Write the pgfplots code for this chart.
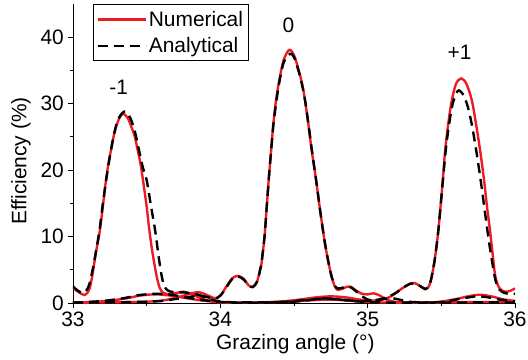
\documentclass[border=0pt]{standalone}
\usepackage{fontspec}
\setmainfont{Liberation Sans}
\usepackage{pgfplots}
\pgfplotsset{compat=1.18}
\definecolor{numred}{RGB}{237,28,36}
\newcommand\chartfont{\fontsize{21}{25}\selectfont}

\begin{document}
\begin{tikzpicture}
\begin{axis}[
  scale only axis, width=442bp, height=299bp,
  xmin=33, xmax=36, ymin=0, ymax=45,
  axis x line*=bottom, axis y line*=left,
  axis line style={line width=1pt},
  xtick={33,34,35,36}, ytick={0,10,20,30,40},
  minor x tick num=1, minor y tick num=1,
  tick align=outside, major tick length=5bp, minor tick length=3bp,
  tick style={black, line width=0.9pt},
  /pgf/number format/assume math mode=true,
  ticklabel style={font=\chartfont},
  xticklabel style={inner sep=0pt, yshift=-4bp},
  yticklabel style={inner sep=0pt, xshift=-4bp},
  xlabel={Grazing angle (°)}, ylabel={Efficiency (\%)},
  every axis x label/.style={at={(axis description cs:0.503,-0.154)},
    anchor=base, font=\chartfont},
  every axis y label/.style={at={(axis description cs:-0.118,0.475)},
    rotate=90, anchor=center, font=\chartfont},
  legend style={at={(rel axis cs:0.045,1)}, anchor=north west,
    font=\chartfont, draw=black, line width=0.8pt,
    inner xsep=3bp, inner ysep=4.5bp, row sep=6bp},
  legend cell align=left,
  legend image code/.code={\draw[#1] (0bp,0bp) -- (48bp,0bp);},
  legend image post style={line width=2.6pt},
  every axis plot/.append style={smooth, tension=0.5},
]
% numerical: orders -1, 0, +1
\addplot[numred, line width=2.4pt] coordinates {
(33.00,2.3) (33.04,1.6) (33.08,1.2) (33.11,2.0) (33.13,4.0) (33.155,7.5) (33.183,11) (33.205,15) (33.224,18.5) (33.245,21.6) (33.263,23.5) (33.28,25.5) (33.31,27.6) (33.337,28.5) (33.37,27.9) (33.40,26.3) (33.42,25.0) (33.439,23) (33.458,21) (33.475,18.5) (33.50,14.5) (33.518,11) (33.54,7.5) (33.568,4) (33.59,2.2) (33.61,1.6) (33.64,1.35) (33.67,1.4) (33.71,1.55) (33.75,1.7) (33.79,1.45) (33.83,1.1) (33.87,0.7) (33.92,0.35) (33.97,0.15) (34.05,0.05) (34.3,0.1) (34.5,0.25) (34.65,0.45) (34.75,0.5) (34.85,0.4) (35.0,0.15) (35.2,0.05) (35.45,0.1) (35.6,0.6) (35.68,1.0) (35.76,1.25) (35.84,1.0) (35.92,0.55) (36.0,0.3)
};
\addlegendentry{Numerical}
\addplot[numred, line width=2.4pt, forget plot] coordinates {
(33.0,0.05) (33.3,0.1) (33.5,0.2) (33.6,0.35) (33.68,0.7) (33.75,1.1) (33.81,1.5) (33.86,1.6) (33.91,1.2) (33.95,0.8) (33.98,0.75) (34.01,1.4) (34.04,2.45) (34.08,3.7) (34.12,4.1) (34.16,3.6) (34.19,2.7) (34.22,2.4) (34.25,3.3) (34.27,5.0) (34.28,6.0) (34.30,10) (34.315,14.5) (34.33,19) (34.345,23) (34.36,27) (34.378,30.5) (34.40,33.5) (34.43,36.6) (34.468,38.1) (34.50,37.3) (34.53,35.2) (34.555,33) (34.575,30.5) (34.60,26.5) (34.62,23) (34.65,18.5) (34.68,13.5) (34.71,9.0) (34.735,6.0) (34.755,4.0) (34.775,2.6) (34.795,2.0) (34.83,2.15) (34.86,2.45) (34.89,2.4) (34.92,1.9) (34.96,1.4) (35.0,1.3) (35.04,1.45) (35.08,1.15) (35.13,0.5) (35.2,0.15) (35.4,0.05) (35.6,0.1) (35.8,0.15) (36.0,0.1)
};
\addplot[numred, line width=2.4pt, forget plot] coordinates {
(33.0,0.05) (33.2,0.25) (33.35,0.65) (33.45,1.1) (33.55,1.3) (33.65,1.15) (33.75,0.8) (33.85,0.45) (33.95,0.2) (34.05,0.05) (34.2,0.05) (34.4,0.2) (34.55,0.55) (34.65,0.85) (34.75,1.0) (34.85,0.85) (34.95,0.5) (35.03,0.35) (35.09,0.45) (35.14,0.8) (35.19,1.5) (35.24,2.3) (35.29,2.95) (35.32,3.0) (35.36,2.5) (35.39,2.1) (35.41,2.3) (35.43,3.5) (35.455,6.5) (35.48,11) (35.51,18.5) (35.526,23) (35.55,27.5) (35.571,30.5) (35.60,33) (35.635,33.8) (35.67,33) (35.707,30.5) (35.735,27) (35.763,23) (35.79,18.5) (35.81,14.5) (35.83,11) (35.85,7) (35.865,4.2) (35.885,2.6) (35.91,1.9) (35.94,1.7) (35.97,1.85) (36.0,2.2)
};
% analytical: orders -1, 0, +1
\addplot[black, line width=2.4pt, dash pattern=on 10bp off 6bp] coordinates {
(33.00,2.5) (33.03,1.9) (33.07,1.5) (33.10,2.2) (33.12,3.6) (33.15,7) (33.18,11) (33.20,14.5) (33.225,18.5) (33.25,22) (33.27,24.5) (33.30,27.3) (33.335,28.6) (33.36,28.8) (33.39,27.8) (33.42,25.8) (33.45,22.8) (33.475,20.3) (33.50,18.5) (33.53,14.5) (33.557,11) (33.58,7.2) (33.60,4.3) (33.62,2.5) (33.65,1.8) (33.70,1.6) (33.75,1.6) (33.80,1.45) (33.85,1.25) (33.90,0.8) (33.95,0.45) (34.0,0.25) (34.1,0.1) (34.3,0.1) (34.5,0.2) (34.62,0.5) (34.70,0.7) (34.78,0.6) (34.9,0.3) (35.05,0.1) (35.3,0.05) (35.5,0.15) (35.62,0.6) (35.70,0.9) (35.75,1.0) (35.82,0.85) (35.9,0.5) (36.0,0.25)
};
\addlegendentry{Analytical}
\addplot[black, line width=2.4pt, dash pattern=on 10bp off 6bp, forget plot] coordinates {
(33.0,0.05) (33.3,0.1) (33.5,0.2) (33.6,0.3) (33.68,0.55) (33.74,0.75) (33.8,0.95) (33.86,1.1) (33.91,0.9) (33.96,0.65) (34.0,1.1) (34.04,2.3) (34.08,3.6) (34.12,4.0) (34.16,3.5) (34.19,2.7) (34.22,2.4) (34.25,3.2) (34.27,5.0) (34.28,6.2) (34.30,10) (34.315,14.5) (34.33,19) (34.345,23) (34.36,26.8) (34.38,30.3) (34.40,33.2) (34.43,36.2) (34.473,37.5) (34.50,37.0) (34.53,35.0) (34.555,32.8) (34.575,30.5) (34.60,26.6) (34.62,23.2) (34.65,18.5) (34.68,13.5) (34.71,9.0) (34.735,6.0) (34.755,4.0) (34.775,2.7) (34.795,2.2) (34.83,2.3) (34.86,2.5) (34.89,2.3) (34.93,1.6) (34.97,0.9) (35.01,0.45) (35.06,0.4) (35.12,0.65) (35.17,0.7) (35.23,0.45) (35.3,0.15) (35.5,0.05) (35.8,0.1) (36.0,0.05)
};
\addplot[black, line width=2.4pt, dash pattern=on 10bp off 6bp, forget plot] coordinates {
(33.0,0.05) (33.2,0.3) (33.35,0.75) (33.45,1.2) (33.58,1.4) (33.68,1.2) (33.78,0.8) (33.88,0.45) (33.98,0.2) (34.1,0.05) (34.3,0.05) (34.45,0.2) (34.55,0.4) (34.65,0.6) (34.72,0.65) (34.8,0.55) (34.9,0.35) (35.0,0.3) (35.07,0.5) (35.13,0.85) (35.19,1.5) (35.24,2.3) (35.29,2.9) (35.32,2.95) (35.36,2.5) (35.39,2.1) (35.41,2.3) (35.43,3.5) (35.455,6.5) (35.48,11) (35.51,18.3) (35.53,23) (35.55,26.5) (35.575,29.8) (35.60,31.5) (35.62,32.0) (35.65,31.3) (35.68,29.5) (35.71,26.5) (35.74,22.5) (35.77,18) (35.80,13) (35.825,9) (35.85,5.5) (35.87,3.2) (35.895,2.0) (35.93,1.5) (35.97,1.35) (36.0,1.4)
};
\node[font=\chartfont] at (axis cs:33.31,32.5) {-1};
\node[font=\chartfont] at (axis cs:34.463,41.8) {0};
\node[font=\chartfont] at (axis cs:35.624,37.7) {+1};
\end{axis}
\pgfresetboundingbox
\path[use as bounding box] ([shift={(-73bp,-57bp)}]current axis.south west)
  rectangle ([shift={(13bp,4bp)}]current axis.north east);
\end{tikzpicture}
\end{document}
